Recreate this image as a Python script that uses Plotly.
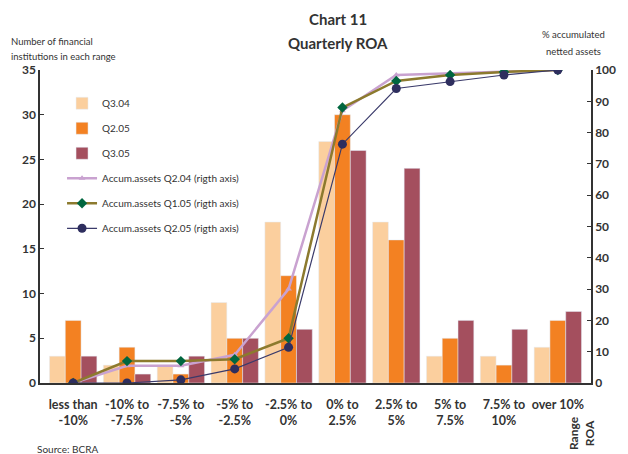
import plotly.graph_objects as go

categories = ["less than<br>-10%", "-10% to<br>-7.5%", "-7.5% to<br>-5%", "-5% to<br>-2.5%",
              "-2.5% to<br>0%", "0% to<br>2.5%", "2.5% to<br>5%", "5% to<br>7.5%",
              "7.5% to<br>10%", "over 10%<br> "]

q3_04 = [3, 2, 2, 9, 18, 27, 18, 3, 3, 4]
q2_05 = [7, 4, 1, 5, 12, 30, 16, 5, 2, 7]
q3_05 = [3, 1, 3, 5, 6, 26, 24, 7, 6, 8]

acc_q2_04 = [0, 5.5, 5.5, 9, 30, 87, 98.4, 99, 99.6, 100]
acc_q1_05 = [0, 7, 7, 7.6, 14.3, 88, 96.5, 98.4, 99.4, 100]
acc_q2_05 = [0, 0, 1, 4.5, 11.4, 76.3, 94.1, 96.3, 98.4, 100]

left_ticks = [0, 5, 10, 15, 20, 25, 30, 35]
right_ticks = [0, 10, 20, 30, 40, 50, 60, 70, 80, 90, 100]

FONT = "Lato, Open Sans, sans-serif"
TXT = "#333333"

fig = go.Figure()
fig.add_trace(go.Bar(x=categories, y=q3_04, name="Q3.04", marker_color="#FBCF9E",
                     legendgroup="a"))
fig.add_trace(go.Bar(x=categories, y=q2_05, name="Q2.05", marker_color="#F38122",
                     legendgroup="b"))
fig.add_trace(go.Bar(x=categories, y=q3_05, name="Q3.05", marker_color="#A44F5E",
                     legendgroup="c"))

fig.add_trace(go.Scatter(x=categories, y=acc_q2_04, name="Accum.assets Q2.04 (rigth axis)",
                         yaxis="y2", mode="lines+markers", legendgroup="d",
                         line=dict(color="#C9A2D0", width=2.5),
                         marker=dict(symbol="triangle-up", size=6, color="#C9A2D0")))
fig.add_trace(go.Scatter(x=categories, y=acc_q1_05, name="Accum.assets Q1.05 (rigth axis)",
                         yaxis="y2", mode="lines+markers", legendgroup="e",
                         line=dict(color="#8C7A2E", width=2.5),
                         marker=dict(symbol="diamond", size=8, color="#00663F")))
fig.add_trace(go.Scatter(x=categories, y=acc_q2_05, name="Accum.assets Q2.05 (rigth axis)",
                         yaxis="y2", mode="lines+markers", legendgroup="f",
                         line=dict(color="#3A3A6A", width=1.2),
                         marker=dict(symbol="circle", size=9, color="#2E2E5E")))

fig.update_layout(
    width=628, height=454,
    margin=dict(l=40, r=33, t=70, b=71),
    paper_bgcolor="white", plot_bgcolor="white",
    barmode="group", bargap=0.12, bargroupgap=0,
    font=dict(family=FONT, color=TXT, size=11),
    showlegend=True,
    legend=dict(x=0.04, y=0.94, xanchor="left", yanchor="top",
                bgcolor="rgba(0,0,0,0)", font=dict(size=10, color=TXT),
                traceorder="grouped", tracegroupgap=6, itemwidth=30),
    xaxis=dict(showline=True, linecolor="#333", linewidth=1.5, ticks="",
               tickfont=dict(size=12.5, color=TXT, family=FONT, weight="bold"),
               showgrid=False, ticklabelstandoff=9),
    yaxis=dict(range=[0, 35], tickvals=left_ticks, showgrid=False, zeroline=False,
               showline=True, linecolor="#333", linewidth=1.5,
               ticks="inside", ticklen=4, tickcolor="#333",
               tickfont=dict(size=12, color=TXT, weight="bold")),
    yaxis2=dict(range=[0, 100], tickvals=right_ticks, overlaying="y", side="right",
                showgrid=False, zeroline=False, showline=True, linecolor="#333",
                linewidth=1.5, ticks="inside", ticklen=4, tickcolor="#333",
                tickfont=dict(size=12, color=TXT, weight="bold")),
)

fig.add_annotation(text="<b>Chart 11</b>", x=0.54, y=1.0, xref="paper", yref="paper",
                   yanchor="bottom", yshift=40, showarrow=False,
                   font=dict(size=15, color=TXT))
fig.add_annotation(text="<b>Quarterly ROA</b>", x=0.54, y=1.0, xref="paper", yref="paper",
                   yanchor="bottom", yshift=16, showarrow=False,
                   font=dict(size=15, color=TXT))
fig.add_annotation(text="Number of financial", x=0, y=1.0, xref="paper", yref="paper",
                   xanchor="left", yanchor="bottom", xshift=-31, yshift=21,
                   showarrow=False, font=dict(size=9.5, color=TXT))
fig.add_annotation(text="institutions in each range", x=0, y=1.0, xref="paper", yref="paper",
                   xanchor="left", yanchor="bottom", xshift=-31, yshift=6,
                   showarrow=False, font=dict(size=9.5, color=TXT))
fig.add_annotation(text="% accumulated", x=1.0, y=1.0, xref="paper", yref="paper",
                   xanchor="center", yanchor="bottom", xshift=-18, yshift=28,
                   showarrow=False, font=dict(size=9.5, color=TXT))
fig.add_annotation(text="netted assets", x=1.0, y=1.0, xref="paper", yref="paper",
                   xanchor="center", yanchor="bottom", xshift=-18, yshift=11,
                   showarrow=False, font=dict(size=9.5, color=TXT))
fig.add_annotation(text="<b>Range<br>ROA</b>", textangle=-90,
                   x=1.0, y=0, xref="paper", yref="paper", xanchor="center", yanchor="top",
                   xshift=-10, yshift=-31, showarrow=False,
                   font=dict(size=12, color=TXT))
fig.add_annotation(text="Source: BCRA", x=0, y=0, xref="paper", yref="paper",
                   xanchor="left", yanchor="top", xshift=-5, yshift=-58,
                   showarrow=False, font=dict(size=10, color=TXT))

fig.write_html("out.html")
